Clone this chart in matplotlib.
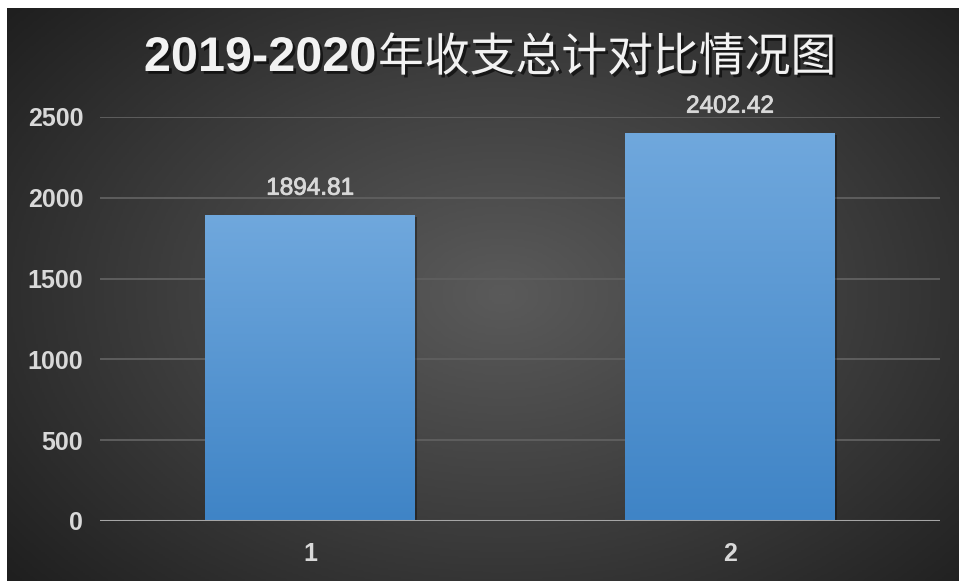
import matplotlib
matplotlib.use("Agg")
import matplotlib.pyplot as plt
import matplotlib.patheffects as pe
from matplotlib.colors import LinearSegmentedColormap
import numpy as np

# data
categories = ["1", "2"]
totals = [1894.81, 2402.42]
y_ticks = [0, 500, 1000, 1500, 2000, 2500]
title_years = "2019-2020"
title_rest = "年收支总计对比情况图"

FONT = ["Liberation Sans", "Noto Sans CJK SC", "DejaVu Sans"]
TEXT_COLOR = "#d9d9d9"

fig = plt.figure(figsize=(9.59, 5.81), dpi=100)
fig.patch.set_facecolor("white")

# dark panel with radial gradient
bg = fig.add_axes([7 / 959, 0, 952 / 959, 573 / 581])
bg.set_axis_off()
yy, xx = np.mgrid[0:1:300j, 0:1:500j]
r = np.sqrt(((xx - 0.52) / 0.75) ** 2 + ((yy - 0.5) / 0.85) ** 2)
r = np.clip(r / r.max(), 0, 1)
bg_cmap = LinearSegmentedColormap.from_list("bg", ["#5a5a5a", "#3e3e3e", "#1f1f1f"])
bg.imshow(r, cmap=bg_cmap, aspect="auto", extent=(0, 1, 0, 1), origin="lower")
bg.set_xlim(0, 1)
bg.set_ylim(0, 1)

shadow = [pe.withSimplePatchShadow(offset=(2, -2), shadow_rgbFace="black", alpha=0.6)]
title_y = 1 - 71 / 581
fig.text(376 / 959, title_y, title_years, ha="right", va="baseline",
         fontsize=35, fontweight="bold", color="#f2f2f2", family=FONT,
         path_effects=shadow)
fig.text(378 / 959, title_y, title_rest, ha="left", va="baseline",
         fontsize=33, fontweight="normal", color="#f2f2f2", family=FONT,
         path_effects=shadow)

ax = fig.add_axes([100 / 959, 60 / 581, 840 / 959, 404 / 581])
ax.patch.set_alpha(0)
x = np.arange(1, len(categories) + 1)
bar_cmap = LinearSegmentedColormap.from_list("bar", ["#3f84c6", "#70a8dd"])
grad = np.linspace(0, 1, 256).reshape(-1, 1)
bars = ax.bar(x, totals, width=0.5, color="#5b9bd5", zorder=3,
              path_effects=[pe.withSimplePatchShadow(offset=(1.5, -1.5), shadow_rgbFace="black", alpha=0.35)])
for b in bars:
    x0, w, h = b.get_x(), b.get_width(), b.get_height()
    im = ax.imshow(grad, cmap=bar_cmap, aspect="auto", origin="lower",
                   extent=(x0, x0 + w, 0, h), zorder=4)
    im.set_clip_path(b)
    ax.annotate(f"{h:.2f}", (b.get_x() + w / 2, h), xytext=(0, 14.5),
                textcoords="offset points", ha="center", va="baseline",
                fontsize=17.5, color=TEXT_COLOR, family=FONT,
                path_effects=[pe.withStroke(linewidth=0.6, foreground=TEXT_COLOR)])

ax.set_xlim(0.5, 2.5)
ax.set_ylim(0, 2500)
ax.set_xticks(x)
ax.set_xticklabels(categories)
ax.set_yticks(y_ticks)
ax.set_yticklabels([str(t) for t in y_ticks])
ax.grid(axis="y", color="#5e5e5e", linewidth=1.4, zorder=1)
ax.axhline(0, color="#a6a6a6", linewidth=2.2, zorder=5)
for s in ax.spines.values():
    s.set_visible(False)
ax.tick_params(axis="both", length=0, labelsize=18, labelcolor=TEXT_COLOR)
ax.tick_params(axis="y", pad=12)
ax.tick_params(axis="x", pad=15)
for lab in ax.get_xticklabels() + ax.get_yticklabels():
    lab.set_fontweight("bold")
    lab.set_family(FONT)

fig.savefig("out.png", dpi=100, facecolor=fig.get_facecolor())
